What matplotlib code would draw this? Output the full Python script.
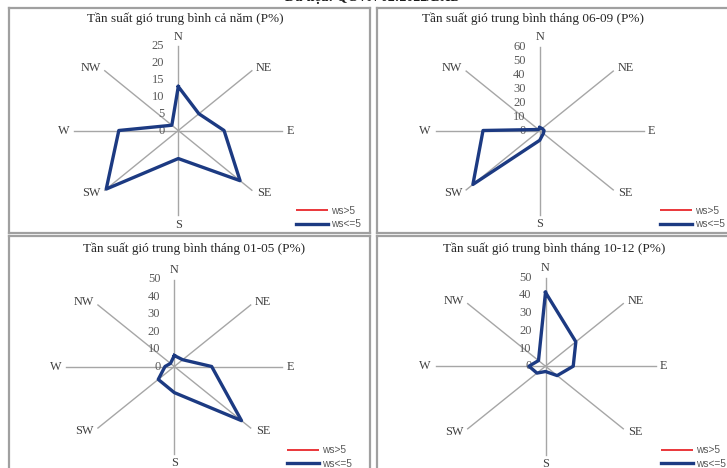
import numpy as np
import matplotlib
matplotlib.use("Agg")
import matplotlib.pyplot as plt

# Wind directions, clockwise from north
directions = ["N", "NE", "E", "SE", "S", "SW", "W", "NW"]

# Wind frequency (P%) for each period, light wind (ws<=5) and strong wind (ws>5)
low_year = [13.0, 7.0, 11.0, 21.0, 8.3, 24.5, 14.3, 2.2]
low_jun_sep = [2.0, 2.0, 2.5, 3.0, 7.0, 54.5, 32.7, 1.0]
low_jan_may = [6.3, 5.5, 17.3, 44.0, 15.0, 10.5, 4.3, 2.5]
low_oct_dec = [41.7, 19.5, 12.6, 7.5, 3.0, 5.5, 7.5, 4.5]
high_all = [0, 0, 0, 0, 0, 0, 0, 0]

titles = [
    "Tần suất gió trung bình cả năm (P%)",
    "Tần suất gió trung bình tháng 06-09 (P%)",
    "Tần suất gió trung bình tháng 01-05 (P%)",
    "Tần suất gió trung bình tháng 10-12 (P%)",
]
series_low = [low_year, low_jun_sep, low_jan_may, low_oct_dec]
axis_max = [25, 60, 50, 50]
axis_step = [5, 10, 10, 10]
legend_labels = ["ws>5", "ws<=5"]
header = "Dữ liệu: QCVN 02:2022/BXD"

W, H = 727, 468
SERIF = "Liberation Serif"
SANS = "Liberation Sans"
NAVY = "#1c3a82"
RED = "#e8262b"
GRID = "#a6a6a6"
FRAME = "#a0a0a0"

# panel frame (left, top, right, bottom) in pixels, chart centre, radii, title centre, legend anchor
panels = [
    dict(box=(9, 8, 370, 233), c=(178.3, 130.5), r=(104, 84.5), t=(185, 19), leg=(296, 212.7)),
    dict(box=(377, 8, 738, 233), c=(539.7, 130.5), r=(104, 84), t=(533, 19), leg=(660, 212.7)),
    dict(box=(9, 236, 370, 470), c=(174.3, 366.5), r=(108, 87), t=(194, 249), leg=(287, 452.3)),
    dict(box=(377, 236, 738, 470), c=(545.5, 366.2), r=(110, 88.5), t=(554, 249), leg=(661, 452.3)),
]

label_offsets = {
    "N": (0, 9.5, "center"), "NE": (4, 3, "left"), "E": (4, 0, "left"),
    "SE": (5, -3, "left"), "S": (0, -9.5, "center"), "SW": (-4, -3, "right"),
    "W": (-5, 0, "right"), "NW": (-4, 3, "right"),
}

fig = plt.figure(figsize=(W / 100, H / 100), dpi=100)
fig.patch.set_facecolor("white")

angles = np.deg2rad(np.arange(0, 360, 45))

for i, p in enumerate(panels):
    x0, y0, x1, y1 = p["box"]
    cx, cy = p["c"]
    rx, ry = p["r"]
    M = axis_max[i]
    ax = fig.add_axes([x0 / W, 1 - y1 / H, (x1 - x0) / W, (y1 - y0) / H])
    ax.set_xlim((x0 - cx) / rx * M, (x1 - cx) / rx * M)
    ax.set_ylim((cy - y1) / ry * M, (cy - y0) / ry * M)
    ax.set_xticks([])
    ax.set_yticks([])
    for s in ax.spines.values():
        s.set_color(FRAME)
        s.set_linewidth(1.6)

    # spokes
    for a in angles:
        ax.plot([0, M * np.sin(a)], [0, M * np.cos(a)], color=GRID, lw=1.0, zorder=1)

    # direction labels
    for a, d in zip(angles, directions):
        dx, dy, ha = label_offsets[d]
        ax.annotate(d, (M * np.sin(a), M * np.cos(a)), xytext=(dx, dy),
                    textcoords="offset pixels", ha=ha, va="center",
                    fontfamily=SERIF, fontsize=8.8, color="#404040",
                    annotation_clip=False)

    # radial value labels along the north spoke
    for v in np.arange(0, M + 0.1, axis_step[i]):
        ax.annotate(f"{v:g}", (0, v), xytext=(-14, 0), textcoords="offset pixels",
                    ha="right", va="center", fontfamily=SERIF, fontsize=9,
                    color="#595959", annotation_clip=False)

    # series
    vh = np.array(high_all + high_all[:1], dtype=float)
    vl = np.array(series_low[i] + series_low[i][:1], dtype=float)
    ang = np.append(angles, angles[0])
    h_high, = ax.plot(vh * np.sin(ang), vh * np.cos(ang), color=RED, lw=1.3,
                      solid_capstyle="butt", zorder=2)
    h_low, = ax.plot(vl * np.sin(ang), vl * np.cos(ang), color=NAVY, lw=2.4,
                     solid_joinstyle="round", zorder=3)

    # title
    tx, ty = p["t"]
    fig.text(tx / W, 1 - ty / H, titles[i], ha="center", va="center",
             fontfamily=SERIF, fontsize=9.5, color="#262626")

    # legend
    lx, ly = p["leg"]
    leg = ax.legend([h_high, h_low], legend_labels, loc="upper left",
                    bbox_to_anchor=((lx - x0) / (x1 - x0), (y1 - (ly - 7)) / (y1 - y0)),
                    frameon=False, borderpad=0, borderaxespad=0,
                    handlelength=3.2, handletextpad=0.3, labelspacing=0.35,
                    prop=dict(family=SANS, size=7.3))
    for t in leg.get_texts():
        t.set_color("#595959")

fig.text(373 / W, 1 - 1.5 / H, header, ha="center", va="baseline",
         fontfamily=SERIF, fontweight="bold", fontsize=10, color="#1a1a1a")

fig.savefig("out.png", dpi=100, facecolor="white")
